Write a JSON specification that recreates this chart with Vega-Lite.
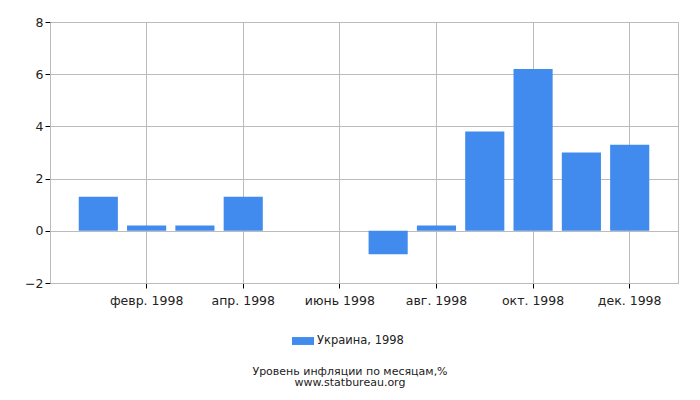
{
  "$schema": "https://vega.github.io/schema/vega-lite/v6.json",
  "description": "Уровень инфляции по месяцам, Украина 1998",
  "autosize": "none",
  "width": 628,
  "height": 261,
  "padding": {"left": 50, "top": 22, "right": 22, "bottom": 117},
  "background": "white",
  "title": {
    "text": ["Уровень инфляции по месяцам,%", "www.statbureau.org"],
    "orient": "bottom",
    "anchor": "middle",
    "font": "DejaVu Sans",
    "fontSize": 11,
    "fontWeight": "normal",
    "color": "#222222",
    "lineHeight": 10.5,
    "offset": 19,
    "dx": -14
  },
  "config": {
    "font": "DejaVu Sans",
    "view": {"stroke": "#bbbbbb", "strokeWidth": 1},
    "axis": {
      "labelFont": "DejaVu Sans",
      "labelFontSize": 12.5,
      "labelColor": "#222222",
      "gridColor": "#bbbbbb",
      "gridOpacity": 1,
      "domainColor": "#bbbbbb",
      "tickColor": "#000000",
      "tickSize": 5
    }
  },
  "data": {
    "values": [
      {"month": "янв. 1998", "value": 1.3, "country": "Украина, 1998"},
      {"month": "февр. 1998", "value": 0.2, "country": "Украина, 1998"},
      {"month": "март 1998", "value": 0.2, "country": "Украина, 1998"},
      {"month": "апр. 1998", "value": 1.3, "country": "Украина, 1998"},
      {"month": "май 1998", "value": 0.0, "country": "Украина, 1998"},
      {"month": "июнь 1998", "value": 0.0, "country": "Украина, 1998"},
      {"month": "июль 1998", "value": -0.9, "country": "Украина, 1998"},
      {"month": "авг. 1998", "value": 0.2, "country": "Украина, 1998"},
      {"month": "сент. 1998", "value": 3.8, "country": "Украина, 1998"},
      {"month": "окт. 1998", "value": 6.2, "country": "Украина, 1998"},
      {"month": "нояб. 1998", "value": 3.0, "country": "Украина, 1998"},
      {"month": "дек. 1998", "value": 3.3, "country": "Украина, 1998"}
    ]
  },
  "mark": {"type": "bar"},
  "encoding": {
    "x": {
      "field": "month",
      "type": "ordinal",
      "sort": null,
      "scale": {"paddingInner": 0.19, "paddingOuter": 0.595},
      "axis": {
        "title": null,
        "values": ["февр. 1998", "апр. 1998", "июнь 1998", "авг. 1998", "окт. 1998", "дек. 1998"],
        "labelAngle": 0,
        "grid": true,
        "labelPadding": 6
      }
    },
    "y": {
      "field": "value",
      "type": "quantitative",
      "scale": {"domain": [-2, 8], "nice": false},
      "axis": {
        "title": null,
        "values": [-2, 0, 2, 4, 6, 8],
        "grid": true,
        "labelPadding": 2
      }
    },
    "color": {
      "field": "country",
      "type": "nominal",
      "scale": {"range": ["#418bef"]},
      "legend": {
        "title": null,
        "orient": "none",
        "legendX": 242,
        "legendY": 308,
        "symbolType": "M-1,-0.36L1,-0.36L1,0.36L-1,0.36Z",
        "symbolSize": 484,
        "symbolStrokeWidth": 0,
        "labelFont": "DejaVu Sans",
        "labelFontSize": 11.5,
        "labelColor": "#222222",
        "labelOffset": 3
      }
    }
  }
}
